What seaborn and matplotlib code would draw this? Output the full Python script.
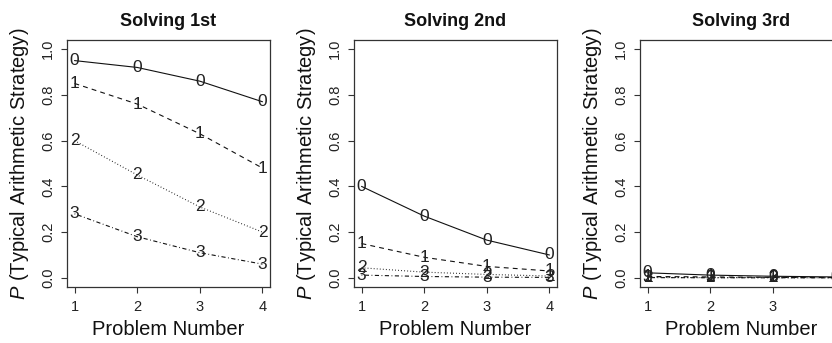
import matplotlib
matplotlib.use("Agg")
import matplotlib.pyplot as plt
import seaborn as sns
import pandas as pd

# ---- data ----
problems = [1, 2, 3, 4]
levels = ["0", "1", "2", "3"]
panel_titles = ["Solving 1st", "Solving 2nd", "Solving 3rd"]

first_0 = [0.95, 0.92, 0.86, 0.77]
first_1 = [0.85, 0.76, 0.63, 0.48]
first_2 = [0.60, 0.45, 0.31, 0.20]
first_3 = [0.28, 0.18, 0.11, 0.06]

second_0 = [0.40, 0.27, 0.165, 0.10]
second_1 = [0.15, 0.09, 0.05, 0.03]
second_2 = [0.044, 0.025, 0.015, 0.008]
second_3 = [0.012, 0.006, 0.003, 0.002]

third_0 = [0.022, 0.012, 0.007, 0.004]
third_1 = [0.006, 0.004, 0.002, 0.001]
third_2 = [0.002, 0.001, 0.001, 0.0005]
third_3 = [0.001, 0.0005, 0.0003, 0.0002]

yticks = [0.0, 0.2, 0.4, 0.6, 0.8, 1.0]
ytick_labels = ["0.0", "0.2", "0.4", "0.6", "0.8", "1.0"]
xlabel = "Problem Number"
ylabel = r"$\it{P}$ (Typical Arithmetic Strategy)"

panels = [
    [first_0, first_1, first_2, first_3],
    [second_0, second_1, second_2, second_3],
    [third_0, third_1, third_2, third_3],
]

# ---- style ----
sns.set_theme(style="white")
plt.rcParams["font.family"] = ["Liberation Sans", "DejaVu Sans"]
plt.rcParams["mathtext.fontset"] = "custom"
plt.rcParams["mathtext.it"] = "Liberation Sans:italic"
plt.rcParams["mathtext.rm"] = "Liberation Sans"
plt.rcParams["lines.scale_dashes"] = False

dash_map = {"0": "", "1": (3.5, 3.0), "2": (0.6, 1.6), "3": (0.6, 1.8, 3.0, 1.8)}

W, H = 832, 343
fig = plt.figure(figsize=(W / 100, H / 100), dpi=100)

lefts = [67, 354, 640]
axw = 203
top, bottom = 40, 287

for i, (series, title) in enumerate(zip(panels, panel_titles)):
    ax = fig.add_axes([lefts[i] / W, (H - bottom) / H, axw / W, (bottom - top) / H])
    rows = []
    for lev, vals in zip(levels, series):
        for p, v in zip(problems, vals):
            rows.append({"problem": p, "value": v, "level": lev})
    df = pd.DataFrame(rows)
    sns.lineplot(data=df, x="problem", y="value", style="level",
                 dashes=dash_map, color="#111111", linewidth=0.8,
                 legend=False, ax=ax, estimator=None)
    for r in df.itertuples():
        ax.text(r.problem, r.value, r.level, ha="center", va="center",
                fontsize=12.5, color="#222222")
    ax.set_xlim(0.88, 4.12)
    ax.set_ylim(-0.04, 1.04)
    ax.set_xticks(problems)
    ax.set_xticklabels([str(p) for p in problems], fontsize=10.5, color="#222222")
    ax.set_yticks(yticks)
    ax.set_yticklabels(ytick_labels, fontsize=10.5, rotation=90, va="center",
                       color="#222222")
    ax.tick_params(axis="both", direction="out", length=4.5, width=0.8,
                   color="#333333", left=True, bottom=True)
    ax.tick_params(axis="x", pad=5)
    ax.tick_params(axis="y", pad=4)
    for s in ax.spines.values():
        s.set_visible(True)
        s.set_color("#333333")
        s.set_linewidth(0.9)
    ax.set_xlabel(xlabel, fontsize=14.5, labelpad=4, color="#111111")
    ax.set_ylabel(ylabel, fontsize=14.5, labelpad=7, color="#111111")
    ax.set_title(title, fontsize=13, fontweight="bold", pad=10, color="#111111")

fig.savefig("out.png", dpi=100)
